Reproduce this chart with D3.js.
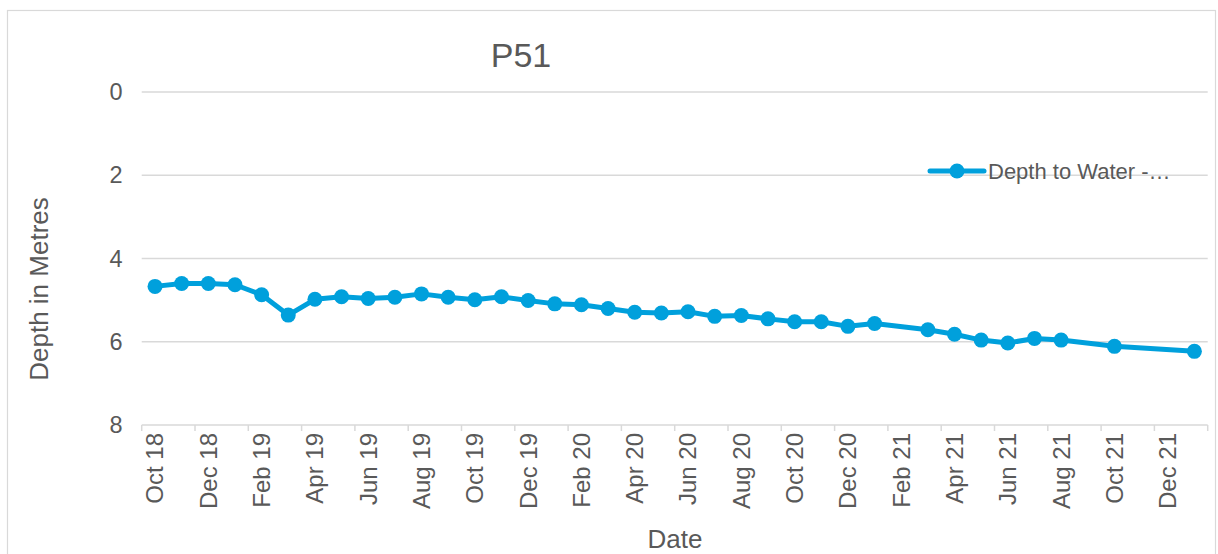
<!DOCTYPE html>
<html>
<head>
<meta charset="utf-8">
<script src="https://cdn.jsdelivr.net/npm/d3@7/dist/d3.min.js"></script>
<style>
  html, body { margin: 0; padding: 0; background: #fff; }
  svg { display: block; font-family: "Liberation Sans", Arial, sans-serif; }
</style>
</head>
<body>
<script>
// ---- data ----
const months = ["2018-10","2018-11","2018-12","2019-01","2019-02","2019-03","2019-04","2019-05","2019-06","2019-07","2019-08","2019-09","2019-10","2019-11","2019-12","2020-01","2020-02","2020-03","2020-04","2020-05","2020-06","2020-07","2020-08","2020-09","2020-10","2020-11","2020-12","2021-01","2021-03","2021-04","2021-05","2021-06","2021-07","2021-08","2021-10","2022-01"];
const depths = [4.67,4.60,4.60,4.63,4.87,5.36,4.98,4.92,4.96,4.93,4.85,4.93,4.99,4.92,5.01,5.09,5.11,5.20,5.29,5.31,5.28,5.39,5.37,5.45,5.52,5.52,5.63,5.56,5.71,5.82,5.96,6.03,5.92,5.96,6.11,6.23];
const yTicks = [0, 2, 4, 6, 8];
const axisStart = "2018-10";
const axisEnd = "2022-02";
const titleText = "P51";
const yTitle = "Depth in Metres";
const xTitle = "Date";
const seriesName = "Depth to Water -…";

// ---- layout ----
const W = 1218, H = 554;
const margin = { left: 141.7, right: W - 1207.7, top: 92, bottom: H - 425 };
const color = "#00a0dc";
const textColor = "#595959";
const gridColor = "#d9d9d9";

const parse = d3.timeParse("%Y-%m");
const fmt = d3.timeFormat("%b %y");
const key = d3.timeFormat("%Y-%m");
const allMonths = d3.timeMonth.range(parse(axisStart), parse(axisEnd)).map(key);

const svg = d3.select("body").append("svg").attr("width", W).attr("height", H);

// chart frame
svg.append("rect").attr("x", 7.5).attr("y", 10.5).attr("width", W - 10).attr("height", H + 20)
  .attr("fill", "none").attr("stroke", gridColor).attr("stroke-width", 1.2);

const x = d3.scaleBand().domain(allMonths).range([margin.left, W - margin.right]).padding(0);
const y = d3.scaleLinear().domain([0, 8]).range([margin.top, H - margin.bottom]);

// gridlines
svg.append("g")
  .selectAll("line").data(yTicks.filter(t => t !== 8)).join("line")
  .attr("x1", margin.left).attr("x2", W - margin.right)
  .attr("y1", d => y(d)).attr("y2", d => y(d))
  .attr("stroke", gridColor).attr("stroke-width", 1.5);

// y axis labels
const yAxis = d3.axisLeft(y).tickValues(yTicks).tickSize(0).tickPadding(19);
const gy = svg.append("g").attr("transform", `translate(${margin.left},0)`).call(yAxis);
gy.select(".domain").remove();
gy.selectAll("text").attr("fill", textColor).attr("font-size", 23.5)
  .attr("font-family", "Liberation Sans, Arial, sans-serif");

// x axis
const tickMonths = allMonths.filter((d, i) => i % 2 === 0);
const gx = svg.append("g").attr("transform", `translate(0,${H - margin.bottom})`);
gx.append("line").attr("x1", margin.left).attr("x2", W - margin.right)
  .attr("stroke", gridColor).attr("stroke-width", 1.5);
gx.selectAll("line.tick").data(tickMonths.concat([null])).join("line")
  .attr("class", "tick")
  .attr("x1", d => d ? x(d) : W - margin.right).attr("x2", d => d ? x(d) : W - margin.right)
  .attr("y1", 0).attr("y2", 6).attr("stroke", gridColor).attr("stroke-width", 1.5);
gx.selectAll("text").data(tickMonths).join("text")
  .attr("transform", d => `translate(${x(d) + x.bandwidth() / 2},8) rotate(-90)`)
  .attr("text-anchor", "end").attr("dy", "0.35em")
  .attr("fill", textColor).attr("font-size", 24)
  .text(d => fmt(parse(d)));

// line + markers
const pts = months.map((m, i) => ({ m, v: depths[i] }));
const line = d3.line().x(d => x(d.m) + x.bandwidth() / 2).y(d => y(d.v));
svg.append("path").datum(pts).attr("d", line)
  .attr("fill", "none").attr("stroke", color).attr("stroke-width", 5)
  .attr("stroke-linejoin", "round").attr("stroke-linecap", "round");
svg.append("g").selectAll("circle").data(pts).join("circle")
  .attr("cx", d => x(d.m) + x.bandwidth() / 2).attr("cy", d => y(d.v))
  .attr("r", 7.5).attr("fill", color);

// title
svg.append("text").attr("x", 521).attr("y", 67).attr("text-anchor", "middle")
  .attr("fill", textColor).attr("font-size", 34).text(titleText);

// axis titles
svg.append("text").attr("transform", "translate(48,289) rotate(-90)")
  .attr("text-anchor", "middle").attr("fill", textColor).attr("font-size", 26).text(yTitle);
svg.append("text").attr("x", 675).attr("y", 548).attr("text-anchor", "middle")
  .attr("fill", textColor).attr("font-size", 26).text(xTitle);

// legend
const lg = svg.append("g").attr("transform", "translate(930,171)");
lg.append("line").attr("x1", 0).attr("x2", 54).attr("y1", 0).attr("y2", 0)
  .attr("stroke", color).attr("stroke-width", 5).attr("stroke-linecap", "round");
lg.append("circle").attr("cx", 27).attr("cy", 0).attr("r", 7.5).attr("fill", color);
lg.append("text").attr("x", 58).attr("y", 0).attr("dy", "0.35em")
  .attr("fill", textColor).attr("font-size", 22).text(seriesName);
</script>
</body>
</html>
